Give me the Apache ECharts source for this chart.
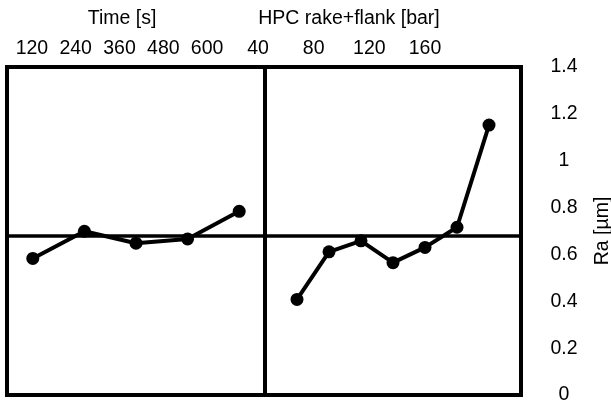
<!DOCTYPE html>
<html>
<head>
<meta charset="utf-8">
<script src="https://cdn.jsdelivr.net/npm/echarts@6/dist/echarts.min.js"></script>
<style>
  html, body { margin: 0; padding: 0; background: #fff; }
  #chart { width: 611px; height: 404px; }
</style>
</head>
<body>
<div id="chart"></div>
<script>
// main effects of Ra
const timeLevels = ["120", "240", "360", "480", "600"];
const timeRa = [0.583, 0.699, 0.648, 0.666, 0.784];

const hpcLevels = [40, 60, 80, 100, 120, 140, 160];
const hpcRa = [0.408, 0.611, 0.658, 0.565, 0.630, 0.716, 1.152];

const font = "Liberation Sans, Arial, sans-serif";
const fs = 19.5;

const chart = echarts.init(document.getElementById("chart"));

const lineStyle = { color: "#000", width: 4 };
const meanLine = {
  silent: true,
  symbol: "none",
  label: { show: false },
  lineStyle: { color: "#000", width: 3.5, type: "solid" },
  data: [{ type: "average" }]
};

const option = {
  animation: false,
  textStyle: { fontFamily: font },
  grid: [
    { left: 7, right: 346, top: 67, bottom: 9, show: true, borderColor: "#000", borderWidth: 4, outerBoundsMode: "none" },
    { left: 265, right: 90, top: 67, bottom: 9, show: true, borderColor: "#000", borderWidth: 4, outerBoundsMode: "none" },
    // label-only grids, the printed ticks sit off the data positions
    { left: 10, width: 219, top: 67, height: 10, outerBoundsMode: "none" },
    { left: 258, width: 167, top: 67, height: 10, outerBoundsMode: "none" }
  ],
  xAxis: [
    {
      gridIndex: 0, type: "category", data: timeLevels, boundaryGap: true,
      axisLine: { show: false }, axisTick: { show: false }, axisLabel: { show: false }
    },
    {
      gridIndex: 1, type: "value", min: 20, max: 180,
      axisLine: { show: false }, axisTick: { show: false }, axisLabel: { show: false },
      splitLine: { show: false }
    },
    {
      gridIndex: 2, type: "category", data: timeLevels, position: "top", boundaryGap: true,
      axisLine: { show: false }, axisTick: { show: false },
      axisLabel: { color: "#000", fontSize: fs, margin: 8 },
      name: "Time [s]", nameLocation: "middle", nameGap: 38,
      nameTextStyle: { color: "#000", fontSize: fs, padding: [0, 0, 0, 5] }
    },
    {
      gridIndex: 3, type: "value", min: 40, max: 160, interval: 40, position: "top",
      axisLine: { show: false }, axisTick: { show: false }, splitLine: { show: false },
      axisLabel: { color: "#000", fontSize: fs, margin: 8, showMinLabel: true, showMaxLabel: true },
      name: "HPC rake+flank [bar]", nameLocation: "middle", nameGap: 38,
      nameTextStyle: { color: "#000", fontSize: fs, padding: [0, 0, 0, 15] }
    }
  ],
  yAxis: [
    {
      gridIndex: 0, type: "value", min: 0, max: 1.4, interval: 0.2,
      axisLine: { show: false }, axisTick: { show: false }, axisLabel: { show: false },
      splitLine: { show: false }
    },
    {
      gridIndex: 1, type: "value", min: 0, max: 1.4, interval: 0.2, position: "right",
      axisLine: { show: false }, axisTick: { show: false }, splitLine: { show: false },
      axisLabel: { color: "#000", fontSize: fs, margin: 43, align: "center" },
      name: "Ra [µm]", nameLocation: "middle", nameRotate: 90, nameGap: 72,
      nameTextStyle: { color: "#000", fontSize: fs }
    },
    { gridIndex: 2, show: false },
    { gridIndex: 3, show: false }
  ],
  series: [
    {
      type: "line", xAxisIndex: 0, yAxisIndex: 0,
      data: timeRa,
      symbol: "circle", symbolSize: 13,
      itemStyle: { color: "#000" }, lineStyle,
      markLine: meanLine
    },
    {
      type: "line", xAxisIndex: 1, yAxisIndex: 1,
      data: hpcLevels.map((h, i) => [h, hpcRa[i]]),
      symbol: "circle", symbolSize: 13,
      itemStyle: { color: "#000" }, lineStyle,
      markLine: meanLine
    }
  ]
};

chart.setOption(option);
</script>
</body>
</html>
